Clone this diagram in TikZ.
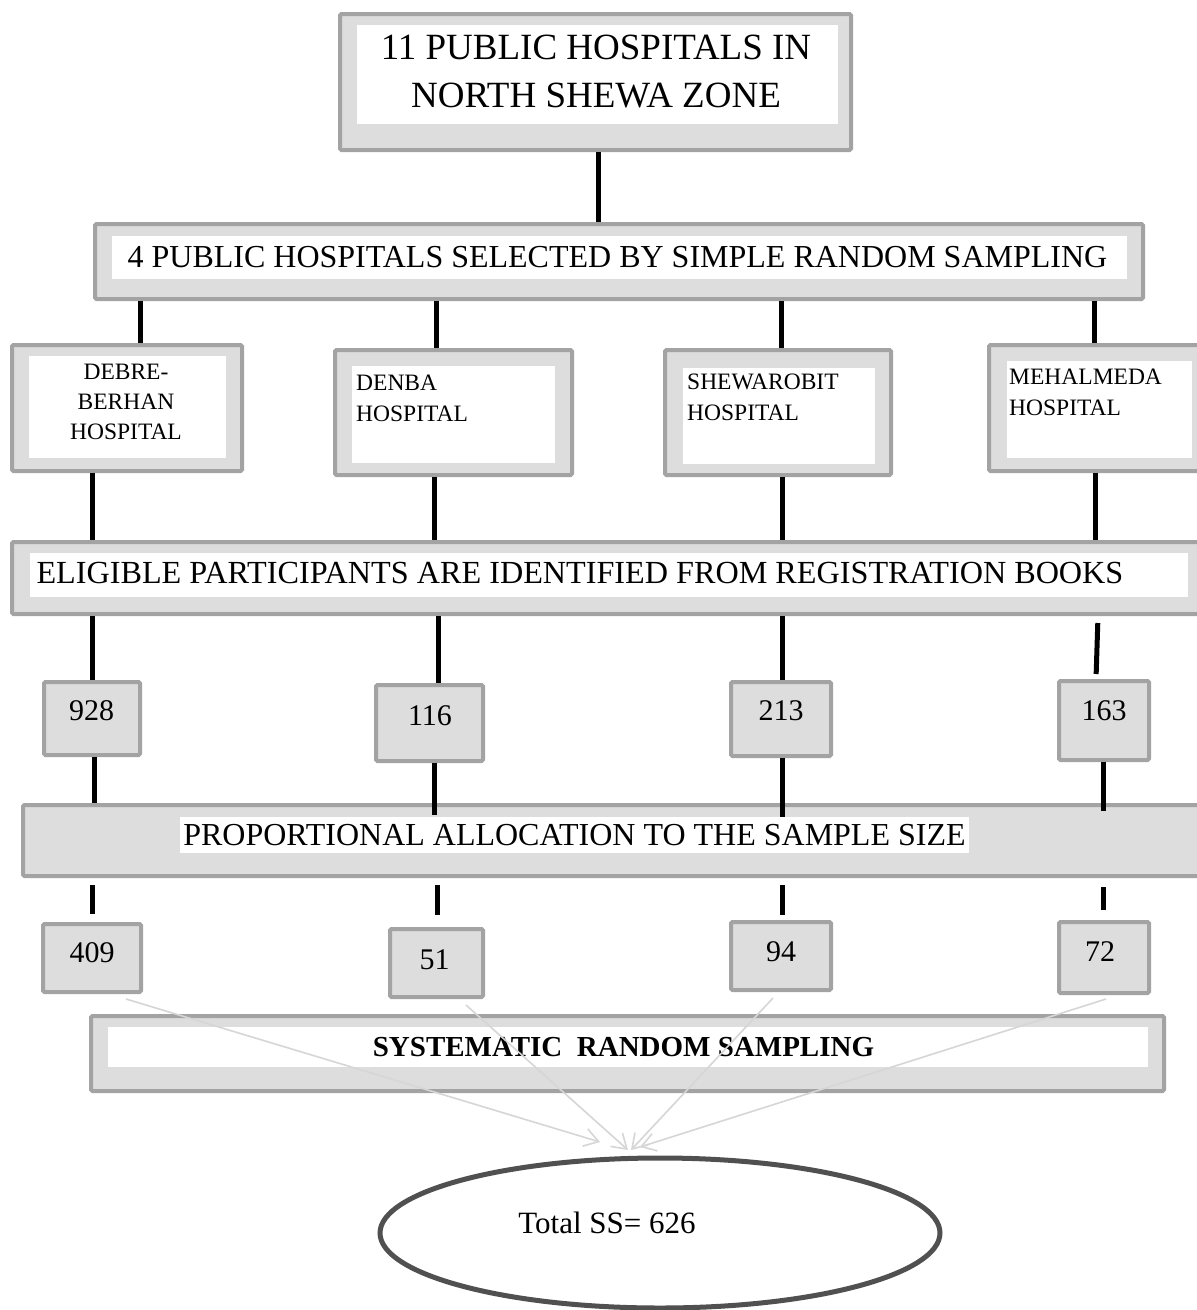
\documentclass[tikz,border=0pt]{standalone}
\usepackage{fontspec}
\setmainfont{Liberation Serif}
\usetikzlibrary{arrows.meta,calc,fit,shapes.geometric}
\definecolor{boxgray}{HTML}{DDDDDD}
\definecolor{edgegray}{HTML}{A3A3A3}
\definecolor{arrowgray}{HTML}{D6D6D6}
\definecolor{ringgray}{HTML}{505050}
\begin{document}
\begin{tikzpicture}[x=1pt,y=-1pt,
  gbox/.style={draw=edgegray, fill=boxgray, line width=4pt, rounded corners=1.5pt, inner sep=0pt},
  conn/.style={line width=5pt, black},
  txt/.style={inner sep=0pt, text=black},
  flow/.style={draw=arrowgray, line width=1.6pt, -{Straight Barb[length=14pt,width=18pt,line width=1.6pt]}},
]
\clip (0,0) rectangle (1197,1310);
\fill[white] (0,0) rectangle (1197,1310);

% ---- top box
\node[gbox, fit={(340,14) (851,150)}] (T) {};
\fill[white] (357,25) rectangle (838,124);
\node[txt, anchor=north, align=center, font=\fontsize{37}{48}\selectfont] (Tt) at (596,35) {11 PUBLIC HOSPITALS IN\\NORTH SHEWA ZONE};

% ---- selection box
\node[gbox, fit={(95,224) (1143,299)}] (B) {};
\fill[white] (112,236) rectangle (1127,279);
\node[txt, font=\fontsize{32}{38}\selectfont] (Bt) at (617.5,257) {4 PUBLIC HOSPITALS SELECTED BY SIMPLE RANDOM SAMPLING};

% ---- hospitals
\node[gbox, fit={(12,345) (242,471)}] (H1) {};
\fill[white] (29,356) rectangle (226,458);
\node[txt, anchor=north, align=center, font=\fontsize{23.5}{30}\selectfont] (H1t) at (126,364) {DEBRE-\\BERHAN\\HOSPITAL};

\node[gbox, fit={(335,350) (572,475)}] (H2) {};
\fill[white] (352,366) rectangle (555,463);
\node[txt, anchor=north west, align=left, font=\fontsize{23.5}{31}\selectfont] (H2t) at (356,375) {DENBA\\HOSPITAL};

\node[gbox, fit={(665,350) (891,475)}] (H3) {};
\fill[white] (683,368) rectangle (875,464);
\node[txt, anchor=north west, align=left, font=\fontsize{23.5}{31}\selectfont] (H3t) at (687,374) {SHEWAROBIT\\HOSPITAL};

\node[gbox, fit={(989,345) (1212,471)}] (H4) {};
\fill[white] (1007,361) rectangle (1192,458);
\node[txt, anchor=north west, align=left, font=\fontsize{23.5}{31}\selectfont] (H4t) at (1009,369) {MEHALMEDA\\HOSPITAL};

% ---- eligible box
\node[gbox, fit={(12,542) (1212,614)}] (E) {};
\fill[white] (30,553) rectangle (1188,597);
\node[txt, font=\fontsize{32.2}{38}\selectfont] (Et) at (580,573) {ELIGIBLE PARTICIPANTS ARE IDENTIFIED FROM REGISTRATION BOOKS};

% ---- first numbers
\node[gbox, fit={(44,682) (140,755)}] (N1) {};
\node[txt, font=\fontsize{30}{36}\selectfont] (N1t) at (91.5,711) {928};
\node[gbox, fit={(376,685) (483,761)}] (N2) {};
\node[txt, font=\fontsize{30}{36}\selectfont] (N2t) at (430,716) {116};
\node[gbox, fit={(731,682) (831,756)}] (N3) {};
\node[txt, font=\fontsize{30}{36}\selectfont] (N3t) at (781,711) {213};
\node[gbox, fit={(1059,681) (1149,760)}] (N4) {};
\node[txt, font=\fontsize{30}{36}\selectfont] (N4t) at (1104,711) {163};

% ---- proportional allocation
\node[gbox, fit={(23,805) (1212,876)}] (P) {};
\fill[white] (180,817) rectangle (969,853);
\node[txt, font=\fontsize{32}{38}\selectfont] (Pt) at (574.5,835) {PROPORTIONAL ALLOCATION TO THE SAMPLE SIZE};

% ---- allocated numbers
\node[gbox, fit={(43,924) (141,992)}] (M1) {};
\node[txt, font=\fontsize{30}{36}\selectfont] (M1t) at (92,953) {409};
\node[gbox, fit={(390,929) (483,997)}] (M2) {};
\node[txt, font=\fontsize{30}{36}\selectfont] (M2t) at (434.5,960) {51};
\node[gbox, fit={(731,922) (831,990)}] (M3) {};
\node[txt, font=\fontsize{30}{36}\selectfont] (M3t) at (781,952) {94};
\node[gbox, fit={(1059,922) (1149,993)}] (M4) {};
\node[txt, font=\fontsize{30}{36}\selectfont] (M4t) at (1100,952) {72};

% ---- systematic sampling
\node[gbox, fit={(91,1016) (1164,1091)}] (S) {};
\fill[white] (108,1027) rectangle (1148,1067);
\node[txt, font=\fontsize{29}{35}\bfseries\selectfont] (St) at (623.5,1047) {SYSTEMATIC\ \ RANDOM SAMPLING};

% ---- total
\node[draw=ringgray, line width=5pt, ellipse, minimum width=560pt, minimum height=150pt, inner sep=0pt] (Tot) at (660,1233) {};
\node[txt, font=\fontsize{31}{37}\selectfont] (Tott) at (607,1223) {Total SS= 626};

% ---- column coordinates
\coordinate (c0) at (598,0);
\coordinate (b1) at (140,0); \coordinate (b2) at (436,0); \coordinate (b3) at (781,0); \coordinate (b4) at (1094,0);
\coordinate (h1) at (92,0);  \coordinate (h2) at (434,0); \coordinate (h3) at (782,0); \coordinate (h4) at (1095,0);
\coordinate (e1) at (92,0);  \coordinate (e2) at (438,0); \coordinate (e3) at (782,0);
\coordinate (e4a) at (1098,0); \coordinate (e4b) at (1096,0);
\coordinate (r1) at (94,0);  \coordinate (r2) at (434,0); \coordinate (r3) at (782,0); \coordinate (r4) at (1103,0);
\coordinate (p1) at (92,0);  \coordinate (p2) at (437,0); \coordinate (p3) at (782,0); \coordinate (p4) at (1103,0);

% ---- connectors
\draw[conn] (T.south -| c0) -- (B.north -| c0);
\draw[conn] (B.south -| b1) -- (H1.north -| b1);
\draw[conn] (B.south -| b2) -- (H2.north -| b2);
\draw[conn] (B.south -| b3) -- (H3.north -| b3);
\draw[conn] (B.south -| b4) -- (H4.north -| b4);

\draw[conn] (H1.south -| h1) -- (E.north -| h1);
\draw[conn] (H2.south -| h2) -- (E.north -| h2);
\draw[conn] (H3.south -| h3) -- (E.north -| h3);
\draw[conn] (H4.south -| h4) -- (E.north -| h4);

\draw[conn] (E.south -| e1) -- (N1.north -| e1);
\draw[conn] (E.south -| e2) -- (N2.north -| e2);
\draw[conn] (E.south -| e3) -- (N3.north -| e3);
\draw[conn, shorten <=7pt, shorten >=5pt] (E.south -| e4a) -- (N4.north -| e4b);

\draw[conn] (N1.south -| r1) -- (P.north -| r1);
\draw[conn, shorten >=-12pt] (N2.south -| r2) -- (P.north -| r2);
\draw[conn, shorten >=-14pt] (N3.south -| r3) -- (P.north -| r3);
\draw[conn, shorten >=-8pt] (N4.south -| r4) -- (P.north -| r4);

\draw[conn, shorten <=7pt, shorten >=8pt] (P.south -| p1) -- (M1.north -| p1);
\draw[conn, shorten <=7pt, shorten >=12pt] (P.south -| p2) -- (M2.north -| p2);
\draw[conn, shorten <=7pt, shorten >=5pt] (P.south -| p3) -- (M3.north -| p3);
\draw[conn, shorten <=9pt, shorten >=10pt] (P.south -| p4) -- (M4.north -| p4);

% ---- arrows to total
\coordinate (a1) at (126,999);  \coordinate (t1) at (600,1142);
\coordinate (a2) at (466,1005); \coordinate (t2) at (628,1150);
\coordinate (a3) at (773,998);  \coordinate (t3) at (631,1150);
\coordinate (a4) at (1106,999); \coordinate (t4) at (640,1147);
\draw[flow] (a1) -- (t1);
\draw[flow] (a2) -- (t2);
\draw[flow] (a3) -- (t3);
\draw[flow] (a4) -- (t4);
\end{tikzpicture}
\end{document}
